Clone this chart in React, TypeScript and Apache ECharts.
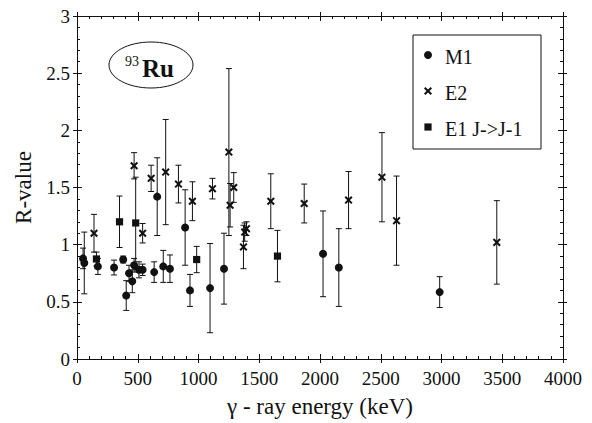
import React, { useEffect, useRef } from "react";
import * as echarts from "echarts";

// γ-ray energies (keV), R-values and symmetric uncertainties for each multipolarity
const m1Energy = [50, 60, 172, 305, 380, 405, 428, 455, 470, 510, 540, 635, 660, 710, 765, 890, 930, 1095, 1210, 2025, 2155, 2985];
const m1Value = [0.88, 0.84, 0.81, 0.8, 0.87, 0.555, 0.75, 0.68, 0.82, 0.78, 0.78, 0.76, 1.42, 0.81, 0.79, 1.15, 0.6, 0.62, 0.79, 0.92, 0.8, 0.585];
const m1Error = [0.09, 0.27, 0.07, 0.065, 0.03, 0.13, 0.07, 0.1, 0.06, 0.07, 0.05, 0.09, 0.34, 0.14, 0.12, 0.33, 0.14, 0.39, 0.31, 0.375, 0.34, 0.135];

const e2Energy = [140, 470, 540, 610, 730, 835, 950, 1115, 1250, 1260, 1290, 1370, 1380, 1395, 1595, 1870, 2235, 2510, 2630, 3455];
const e2Value = [1.1, 1.69, 1.1, 1.58, 1.635, 1.53, 1.38, 1.49, 1.81, 1.345, 1.5, 0.98, 1.11, 1.14, 1.38, 1.36, 1.39, 1.59, 1.21, 1.02];
const e2Error = [0.165, 0.115, 0.085, 0.115, 0.46, 0.165, 0.17, 0.09, 0.73, 0.19, 0.13, 0.19, 0.08, 0.06, 0.24, 0.17, 0.25, 0.39, 0.39, 0.365];

const e1Energy = [160, 350, 483, 985, 1650];
const e1Value = [0.875, 1.2, 1.19, 0.87, 0.9];
const e1Error = [0.06, 0.225, 0.4, 0.115, 0.225];

const legendLabels = ["M1", "E2", "E1 J->J-1"];

const SERIF = "serif";
const INK = "#111";

type Kind = "circle" | "cross" | "square";

function marker(kind: Kind, cx: number, cy: number): any[] {
  if (kind === "circle") {
    return [{ type: "circle", shape: { cx, cy, r: 4 }, style: { fill: INK } }];
  }
  if (kind === "square") {
    return [{ type: "rect", shape: { x: cx - 3.6, y: cy - 3.6, width: 7.2, height: 7.2 }, style: { fill: INK } }];
  }
  const s = 3.3;
  return [
    { type: "line", shape: { x1: cx - s, y1: cy - s, x2: cx + s, y2: cy + s }, style: { stroke: INK, lineWidth: 2 } },
    { type: "line", shape: { x1: cx - s, y1: cy + s, x2: cx + s, y2: cy - s }, style: { stroke: INK, lineWidth: 2 } },
  ];
}

function errorRenderer(kind: Kind) {
  return (_params: any, api: any) => {
    const x = api.value(0);
    const y = api.value(1);
    const e = api.value(2);
    const p = api.coord([x, y]);
    const hi = api.coord([x, y + e]);
    const lo = api.coord([x, y - e]);
    const cap = 3;
    const st = { stroke: INK, lineWidth: 1 };
    return {
      type: "group",
      children: [
        { type: "line", shape: { x1: p[0], y1: hi[1], x2: p[0], y2: lo[1] }, style: st },
        { type: "line", shape: { x1: p[0] - cap, y1: hi[1], x2: p[0] + cap, y2: hi[1] }, style: st },
        { type: "line", shape: { x1: p[0] - cap, y1: lo[1], x2: p[0] + cap, y2: lo[1] }, style: st },
        ...marker(kind, p[0], p[1]),
      ],
    };
  };
}

function rows(xs: number[], ys: number[], es: number[]) {
  return xs.map((x, i) => [x, ys[i], es[i]]);
}

function xAxisFrame(position: "top" | "bottom", inside: boolean, labels: boolean) {
  return {
    type: "value",
    position,
    min: 0,
    max: 4000,
    interval: 500,
    axisLine: { show: true, onZero: false, lineStyle: { color: INK, width: 1 } },
    axisTick: { show: true, inside, length: inside ? 5 : 4, lineStyle: { color: INK } },
    minorTick: { show: inside, splitNumber: 5, length: 3, lineStyle: { color: INK } },
    axisLabel: {
      show: labels,
      margin: 10,
      fontSize: 19,
      color: INK,
      fontFamily: SERIF,
      formatter: (v: number) => String(v),
    },
    splitLine: { show: false },
  };
}

function yAxisFrame(position: "left" | "right", inside: boolean, labels: boolean) {
  return {
    type: "value",
    position,
    min: 0,
    max: 3,
    interval: 0.5,
    axisLine: { show: true, onZero: false, lineStyle: { color: INK, width: 1 } },
    axisTick: { show: true, inside, length: inside ? 5 : 4, lineStyle: { color: INK } },
    minorTick: { show: inside, splitNumber: 5, length: 3, lineStyle: { color: INK } },
    axisLabel: {
      show: labels,
      margin: 7,
      fontSize: 19,
      color: INK,
      fontFamily: SERIF,
      formatter: (v: number) => String(v),
    },
    splitLine: { show: false },
  };
}

export default function App() {
  const ref = useRef<HTMLDivElement>(null);

  useEffect(() => {
    if (!ref.current) return;
    const chart = echarts.init(ref.current, null, { renderer: "svg" });

    const xMain: any = xAxisFrame("bottom", false, true);
    xMain.name = "γ - ray energy (keV)";
    xMain.nameLocation = "middle";
    xMain.nameGap = 36;
    xMain.nameTextStyle = { fontSize: 23, color: INK, fontFamily: SERIF };

    const yMain: any = yAxisFrame("left", false, true);
    yMain.name = "R-value";
    yMain.nameLocation = "middle";
    yMain.nameGap = 35;
    yMain.nameTextStyle = { fontSize: 23, color: INK, fontFamily: SERIF };

    const legendY = [56, 92, 128];
    const legendKinds: Kind[] = ["circle", "cross", "square"];

    chart.setOption({
      animation: false,
      backgroundColor: "#fff",
      textStyle: { fontFamily: SERIF },
      grid: { left: 77, right: 29, top: 16, bottom: 61 },
      xAxis: [
        xMain,
        xAxisFrame("bottom", true, false),
        xAxisFrame("top", true, false),
        xAxisFrame("top", false, false),
      ],
      yAxis: [
        yMain,
        yAxisFrame("left", true, false),
        yAxisFrame("right", true, false),
        yAxisFrame("right", false, false),
      ],
      series: [
        {
          name: "M1",
          type: "custom",
          renderItem: errorRenderer("circle"),
          encode: { x: 0, y: 1 },
          data: rows(m1Energy, m1Value, m1Error),
        },
        {
          name: "E2",
          type: "custom",
          renderItem: errorRenderer("cross"),
          encode: { x: 0, y: 1 },
          data: rows(e2Energy, e2Value, e2Error),
        },
        {
          name: "E1 J->J-1",
          type: "custom",
          renderItem: errorRenderer("square"),
          encode: { x: 0, y: 1 },
          data: rows(e1Energy, e1Value, e1Error),
        },
      ],
      graphic: [
        // nucleus tag
        {
          type: "ellipse",
          shape: { cx: 151, cy: 65, rx: 42, ry: 23 },
          style: { fill: "none", stroke: INK, lineWidth: 1 },
        },
        {
          type: "text",
          x: 125,
          y: 54,
          style: { text: "93", fontSize: 14, fontFamily: SERIF, fill: INK, textAlign: "left", textVerticalAlign: "top" },
        },
        {
          type: "text",
          x: 142,
          y: 68,
          style: { text: "Ru", fontSize: 25, fontWeight: "bold", fontFamily: SERIF, fill: INK, textAlign: "left", textVerticalAlign: "middle" },
        },
        // legend box
        {
          type: "rect",
          shape: { x: 413, y: 35, width: 128, height: 114 },
          style: { fill: "none", stroke: INK, lineWidth: 1 },
        },
        ...legendKinds.flatMap((k, i) => marker(k, 428, legendY[i] - 1)),
        ...legendLabels.map((t, i) => ({
          type: "text",
          x: 445,
          y: legendY[i] + 1,
          style: { text: t, fontSize: 20, fontFamily: SERIF, fill: INK, textAlign: "left", textVerticalAlign: "middle" },
        })),
      ],
    });

    return () => chart.dispose();
  }, []);

  return (
    <div
      ref={ref}
      style={{ position: "fixed", left: 0, top: 0, width: 592, height: 423, background: "#fff" }}
    />
  );
}
